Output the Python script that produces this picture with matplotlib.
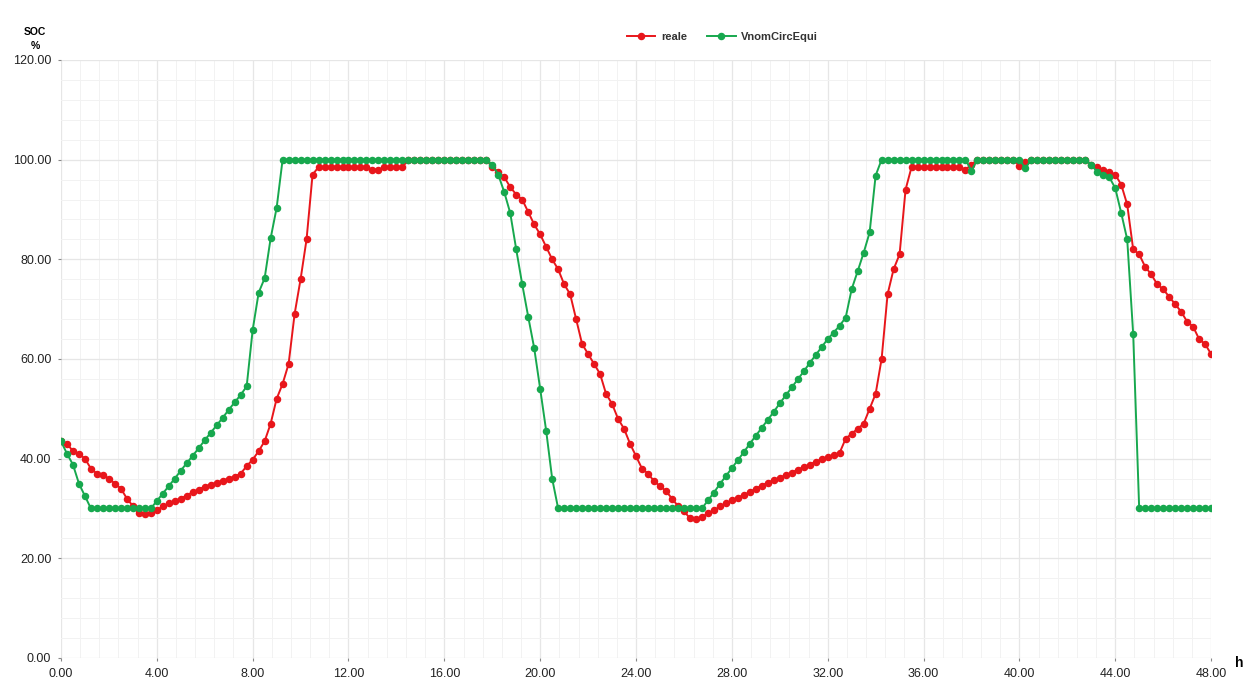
import numpy as np
import matplotlib.pyplot as plt
from matplotlib.ticker import MultipleLocator, FormatStrFormatter

plt.rcParams['font.family'] = ['Liberation Sans', 'DejaVu Sans']

# SOC samples every 15 minutes, 0 h .. 48 h
hours = np.arange(193) * 0.25

reale = [
    43.5, 43.0, 41.5, 41.0, 40.0, 38.0, 37.0, 36.8,
    36.0, 35.0, 34.0, 32.0, 30.5, 29.0, 28.8, 29.0,
    29.7, 30.4, 31.0, 31.5, 32.0, 32.6, 33.3, 33.8,
    34.4, 34.8, 35.2, 35.6, 36.0, 36.4, 37.0, 38.5,
    39.8, 41.5, 43.5, 47.0, 52.0, 55.0, 59.0, 69.0,
    76.0, 84.0, 97.0, 98.5, 98.5, 98.5, 98.5, 98.5,
    98.5, 98.5, 98.5, 98.5, 98.0, 98.0, 98.5, 98.5,
    98.5, 98.5, 100.0, 100.0, 100.0, 100.0, 100.0, 100.0,
    100.0, 100.0, 100.0, 100.0, 100.0, 100.0, 100.0, 100.0,
    98.5, 97.5, 96.5, 94.5, 93.0, 92.0, 89.5, 87.0,
    85.0, 82.5, 80.0, 78.0, 75.0, 73.0, 68.0, 63.0,
    61.0, 59.0, 57.0, 53.0, 51.0, 48.0, 46.0, 43.0,
    40.5, 38.0, 37.0, 35.5, 34.5, 33.5, 32.0, 30.5,
    29.5, 28.0, 27.8, 28.3, 29.0, 29.6, 30.4, 31.0,
    31.6, 32.2, 32.7, 33.3, 34.0, 34.6, 35.2, 35.7,
    36.2, 36.7, 37.2, 37.8, 38.3, 38.8, 39.4, 39.9,
    40.3, 40.7, 41.2, 44.0, 45.0, 46.0, 47.0, 50.0,
    53.0, 60.0, 73.0, 78.0, 81.0, 94.0, 98.5, 98.5,
    98.5, 98.5, 98.5, 98.5, 98.5, 98.5, 98.5, 98.0,
    99.0, 100.0, 100.0, 100.0, 100.0, 100.0, 100.0, 100.0,
    98.8, 99.5, 100.0, 100.0, 100.0, 100.0, 100.0, 100.0,
    100.0, 100.0, 100.0, 100.0, 99.0, 98.5, 98.0, 97.5,
    97.0, 95.0, 91.0, 82.0, 81.0, 78.5, 77.0, 75.0,
    74.0, 72.5, 71.0, 69.5, 67.5, 66.5, 64.0, 63.0,
    61.0,
]

vnom = [
    43.5, 41.0, 38.8, 35.0, 32.5, 30.0, 30.0, 30.0,
    30.0, 30.0, 30.0, 30.0, 30.0, 30.0, 30.0, 30.0,
    31.5, 33.0, 34.5, 36.0, 37.6, 39.1, 40.6, 42.1,
    43.7, 45.2, 46.7, 48.2, 49.8, 51.3, 52.8, 54.5,
    65.8, 73.3, 76.2, 84.2, 90.3, 100.0, 100.0, 100.0,
    100.0, 100.0, 100.0, 100.0, 100.0, 100.0, 100.0, 100.0,
    100.0, 100.0, 100.0, 100.0, 100.0, 100.0, 100.0, 100.0,
    100.0, 100.0, 100.0, 100.0, 100.0, 100.0, 100.0, 100.0,
    100.0, 100.0, 100.0, 100.0, 100.0, 100.0, 100.0, 100.0,
    99.0, 97.0, 93.5, 89.3, 82.0, 75.0, 68.5, 62.2,
    54.0, 45.6, 36.0, 30.0, 30.0, 30.0, 30.0, 30.0,
    30.0, 30.0, 30.0, 30.0, 30.0, 30.0, 30.0, 30.0,
    30.0, 30.0, 30.0, 30.0, 30.0, 30.0, 30.0, 30.0,
    30.0, 30.0, 30.0, 30.0, 31.6, 33.2, 34.9, 36.5,
    38.1, 39.7, 41.3, 43.0, 44.6, 46.2, 47.8, 49.4,
    51.1, 52.7, 54.3, 55.9, 57.5, 59.2, 60.8, 62.4,
    64.0, 65.3, 66.7, 68.3, 74.0, 77.6, 81.3, 85.4,
    96.8, 100.0, 100.0, 100.0, 100.0, 100.0, 100.0, 100.0,
    100.0, 100.0, 100.0, 100.0, 100.0, 100.0, 100.0, 100.0,
    97.8, 100.0, 100.0, 100.0, 100.0, 100.0, 100.0, 100.0,
    100.0, 98.3, 100.0, 100.0, 100.0, 100.0, 100.0, 100.0,
    100.0, 100.0, 100.0, 100.0, 99.0, 97.5, 97.0, 96.5,
    94.3, 89.3, 84.0, 65.0, 30.0, 30.0, 30.0, 30.0,
    30.0, 30.0, 30.0, 30.0, 30.0, 30.0, 30.0, 30.0,
    30.0,
]

fig = plt.figure(figsize=(12.52, 6.8), dpi=100)
ax = fig.add_axes([0.0487, 0.0324, 0.9186, 0.8794])

ax.plot(hours, reale, color='#e8161b', lw=1.4, marker='o', ms=4.4, label='reale')
ax.plot(hours, vnom, color='#17a84e', lw=1.4, marker='o', ms=4.4, label='VnomCircEqui')

ax.set_xlim(0, 48)
ax.set_ylim(0, 120)
ax.xaxis.set_major_locator(MultipleLocator(4))
ax.xaxis.set_minor_locator(MultipleLocator(0.8))
ax.yaxis.set_major_locator(MultipleLocator(20))
ax.yaxis.set_minor_locator(MultipleLocator(4))
ax.xaxis.set_major_formatter(FormatStrFormatter('%.2f'))
ax.yaxis.set_major_formatter(FormatStrFormatter('%.2f'))

ax.grid(which='major', color='#e6e6e6', lw=0.9)
ax.grid(which='minor', color='#f2f2f2', lw=0.7)
ax.set_axisbelow(True)
for s in ax.spines.values():
    s.set_visible(False)

ax.tick_params(which='minor', length=0)
ax.tick_params(axis='x', which='major', length=2, color='#888888', pad=5,
               labelsize=9, labelcolor='#222222')
ax.tick_params(axis='y', which='major', length=2, color='#888888', pad=5,
               labelsize=9, labelcolor='#222222')

fig.text(0.028, 0.953, 'SOC', ha='center', va='center', fontsize=7.5, fontweight='bold')
fig.text(0.028, 0.933, '%', ha='center', va='center', fontsize=7.5, fontweight='bold')
fig.text(0.990, 0.025, 'h', ha='center', va='center', fontsize=10, fontweight='bold')

leg = fig.legend(loc='center', bbox_to_anchor=(0.577, 0.946), ncol=2, frameon=False,
                 fontsize=8, handlelength=2.6, columnspacing=1.8, handletextpad=0.5)
for t in leg.get_texts():
    t.set_fontweight('bold')
    t.set_color('#333333')

fig.savefig('out.png', dpi=100)
